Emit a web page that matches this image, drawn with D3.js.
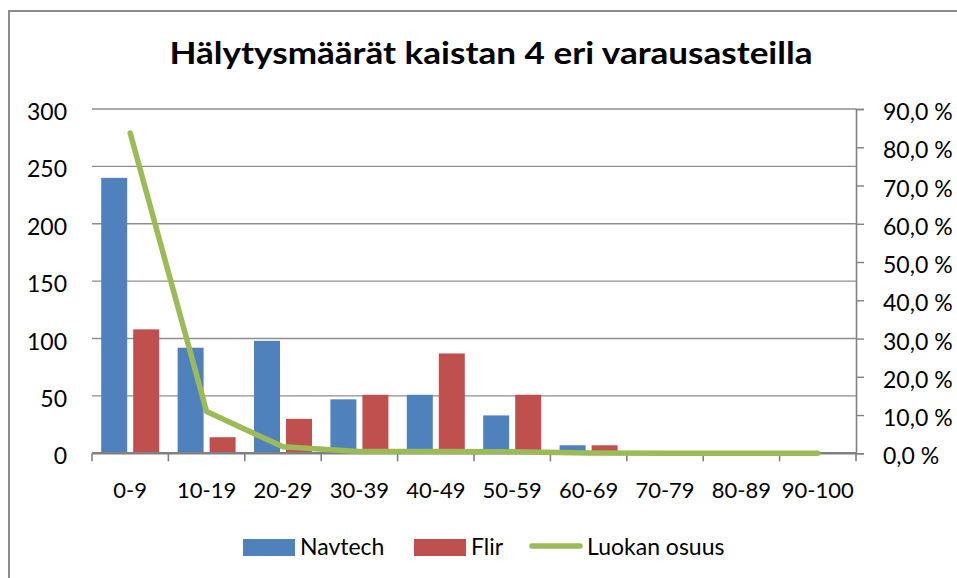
<!DOCTYPE html>
<html>
<head>
<meta charset="utf-8">
<script src="https://cdn.jsdelivr.net/npm/d3@7"></script>
<style>
  html, body { margin: 0; padding: 0; background: #fff; }
  svg { display: block; }
  text { font-family: Lato, "Open Sans", sans-serif; fill: #000; }
</style>
</head>
<body>
<svg id="chart" width="957" height="578"></svg>
<script>
// Occupancy classes (varausaste, %)
const categories = ["0-9", "10-19", "20-29", "30-39", "40-49", "50-59", "60-69", "70-79", "80-89", "90-100"];
// Alarm counts per class
const navtech = [240, 92, 98, 47, 51, 33, 7, 0, 0, 0];
const flir    = [108, 14, 30, 51, 87, 51, 7, 0, 0, 0];
// Share of each class (fraction of total)
const luokanOsuus = [0.837, 0.109, 0.017, 0.005, 0.005, 0.004, 0.001, 0, 0, 0];

const leftTicks = [0, 50, 100, 150, 200, 250, 300];
const rightTicks = [0, 0.1, 0.2, 0.3, 0.4, 0.5, 0.6, 0.7, 0.8, 0.9];

const seriesNames = ["Navtech", "Flir", "Luokan osuus"];
const colors = { Navtech: "#4F81BD", Flir: "#C0504D", "Luokan osuus": "#9BBB59" };

const svg = d3.select("#chart");

// chart frame
svg.append("rect")
  .attr("x", 9).attr("y", 11)
  .attr("width", 1200).attr("height", 1200)
  .attr("fill", "none").attr("stroke", "#8c8c8c").attr("stroke-width", 2);

const plot = { left: 92, right: 856, top: 109, bottom: 453.3 };

const x = d3.scaleBand().domain(categories).range([plot.left, plot.right]).paddingInner(0).paddingOuter(0);
const xs = d3.scaleBand().domain(["Navtech", "Flir"]).range([0, x.bandwidth()])
  .paddingInner(0.1875).paddingOuter(0.2875);
const yL = d3.scaleLinear().domain([0, 300]).range([plot.bottom, plot.top]);
const yR = d3.scaleLinear().domain([0, 0.9]).range([plot.bottom, plot.top]);

const fi = d3.formatLocale({ decimal: ",", thousands: "\u00a0", grouping: [3], currency: ["", " €"], percent: "\u00a0%" });
const pct = fi.format(".1%");

// title
const title = svg.append("text")
  .attr("x", 491).attr("y", 64)
  .attr("text-anchor", "middle")
  .attr("font-size", 30).attr("font-weight", "bold")
  .text("Hälytysmäärät kaistan 4 eri varausasteilla");
title.attr("textLength", 643).attr("lengthAdjust", "spacingAndGlyphs");

// horizontal gridlines
svg.append("g").selectAll("line")
  .data(leftTicks.filter(d => d > 0))
  .join("line")
  .attr("x1", plot.left).attr("x2", plot.right)
  .attr("y1", d => yL(d)).attr("y2", d => yL(d))
  .attr("stroke", "#8e8e8e").attr("stroke-width", 1.4);

// left axis labels
const gl = svg.append("g").attr("transform", `translate(${plot.left},0)`)
  .call(d3.axisLeft(yL).tickValues(leftTicks).tickSize(0).tickPadding(25));
gl.select(".domain").remove();
gl.selectAll("text").attr("font-size", 23).attr("font-family", "Lato").attr("dy", "0.46em").attr("fill", "#000");

// bars
const groups = svg.append("g").selectAll("g")
  .data(categories)
  .join("g")
  .attr("transform", d => `translate(${x(d)},0)`);

groups.selectAll("rect")
  .data((d, i) => [{ s: "Navtech", v: navtech[i] }, { s: "Flir", v: flir[i] }])
  .join("rect")
  .attr("x", d => xs(d.s))
  .attr("width", xs.bandwidth())
  .attr("y", d => yL(d.v))
  .attr("height", d => yL(0) - yL(d.v))
  .attr("fill", d => colors[d.s]);

// x axis
const gx = svg.append("g").attr("transform", `translate(0,${plot.bottom})`)
  .call(d3.axisBottom(x).tickSize(0).tickPadding(29));
gx.select(".domain").remove();
gx.selectAll("text").attr("font-size", 22).attr("font-family", "Lato").attr("fill", "#000").attr("dy", "0.71em");
svg.append("line")
  .attr("x1", plot.left).attr("x2", plot.right)
  .attr("y1", plot.bottom).attr("y2", plot.bottom)
  .attr("stroke", "#808080").attr("stroke-width", 2.4);
svg.append("g").selectAll("line")
  .data(categories.map(c => x(c)).concat([plot.right]))
  .join("line")
  .attr("x1", d => d).attr("x2", d => d)
  .attr("y1", plot.bottom).attr("y2", plot.bottom + 8)
  .attr("stroke", "#808080").attr("stroke-width", 1.6);

// right axis
const gr = svg.append("g").attr("transform", `translate(${plot.right},0)`)
  .call(d3.axisRight(yR).tickValues(rightTicks).tickFormat(pct).tickSize(8).tickPadding(19));
gr.select(".domain").attr("stroke", "#808080").attr("stroke-width", 1.6);
gr.selectAll(".tick line").attr("stroke", "#808080").attr("stroke-width", 1.4);
gr.selectAll("text").attr("font-size", 23).attr("font-family", "Lato").attr("dy", "0.46em").attr("fill", "#000");

// share line
const line = d3.line()
  .x((d, i) => x(categories[i]) + x.bandwidth() / 2)
  .y(d => yR(d));
svg.append("path")
  .datum(luokanOsuus)
  .attr("d", line)
  .attr("fill", "none")
  .attr("stroke", colors["Luokan osuus"])
  .attr("stroke-width", 5.5)
  .attr("stroke-linejoin", "round")
  .attr("stroke-linecap", "round");

// legend
const legend = svg.append("g");
const legendItems = [
  { name: "Navtech", x: 243, type: "rect" },
  { name: "Flir", x: 414, type: "rect" },
  { name: "Luokan osuus", x: 530, type: "line" }
];
legendItems.forEach(it => {
  if (it.type === "rect") {
    legend.append("rect").attr("x", it.x).attr("y", 539).attr("width", 52).attr("height", 17)
      .attr("fill", colors[it.name]);
  } else {
    legend.append("line").attr("x1", it.x + 2).attr("x2", it.x + 50).attr("y1", 546).attr("y2", 546)
      .attr("stroke", colors[it.name]).attr("stroke-width", 5.5).attr("stroke-linecap", "round");
  }
  legend.append("text").attr("x", it.x + 57).attr("y", 555)
    .attr("font-size", 23).text(it.name);
});
</script>
</body>
</html>
